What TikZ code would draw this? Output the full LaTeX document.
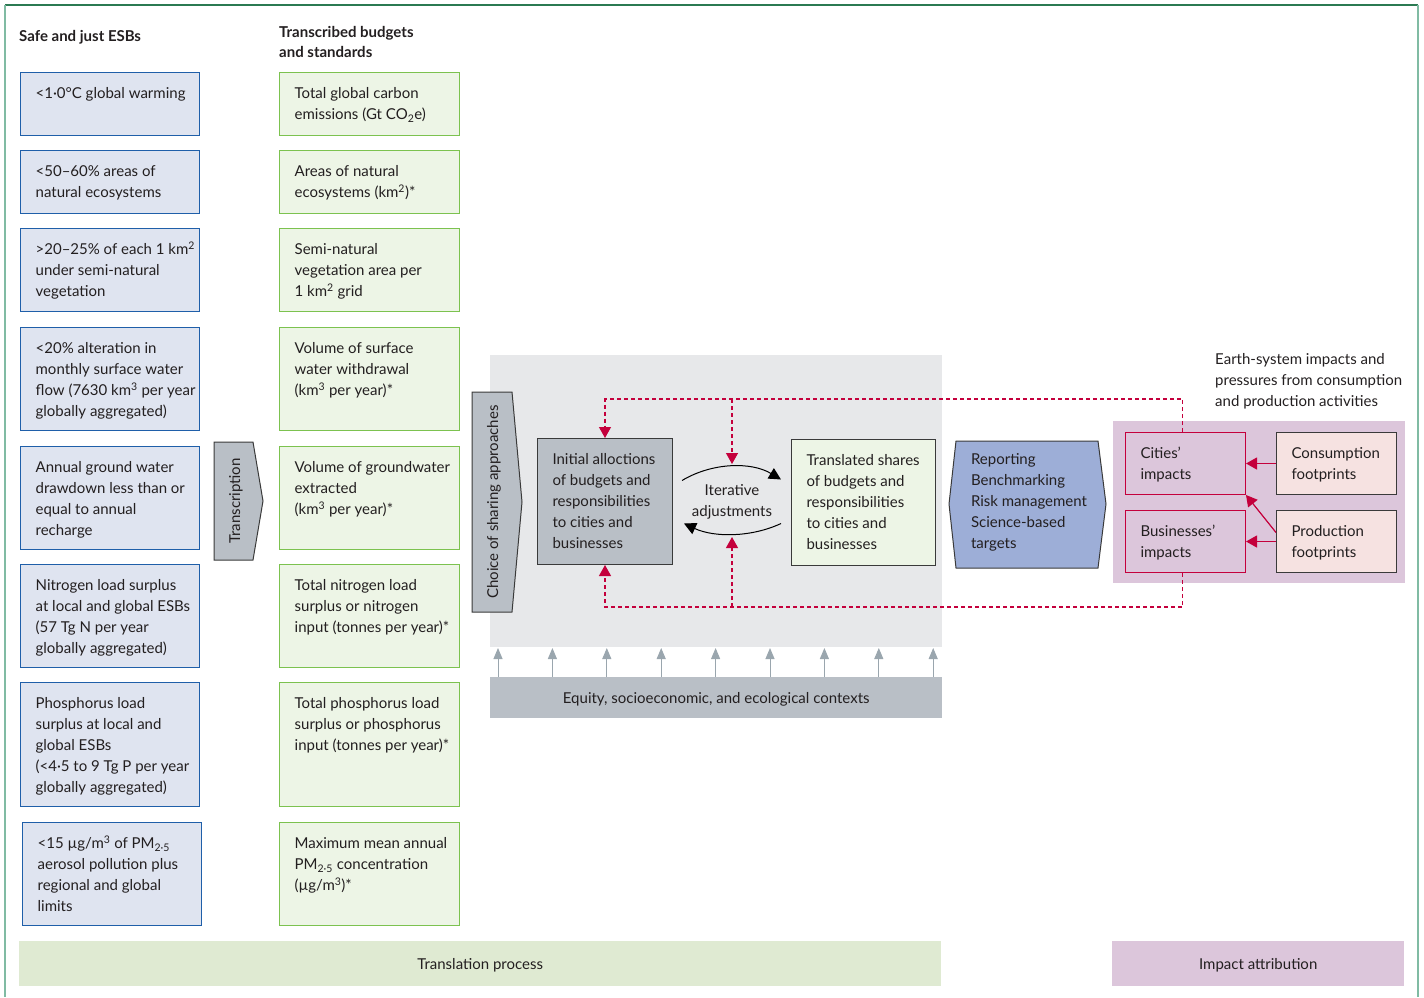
\documentclass[tikz,border=0pt]{standalone}
\usepackage{fontspec}
\setmainfont{Lato}
\usetikzlibrary{arrows.meta,positioning}

\definecolor{esbfill}{HTML}{DFE4F0}
\definecolor{esbline}{HTML}{1F5FA9}
\definecolor{tbsfill}{HTML}{EDF5E6}
\definecolor{tbsline}{HTML}{7CC24F}
\definecolor{stagegray}{HTML}{B9BFC6}
\definecolor{panelgray}{HTML}{E7E8EA}
\definecolor{darkline}{HTML}{3A3A3A}
\definecolor{textgray}{HTML}{231F20}
\definecolor{flowred}{HTML}{C4003C}
\definecolor{reportblue}{HTML}{9DAED7}
\definecolor{impactbg}{HTML}{DCC6DB}
\definecolor{footfill}{HTML}{F6E2E1}
\definecolor{transbar}{HTML}{DFEAD2}
\definecolor{ctxgray}{HTML}{9AA6AE}
\definecolor{framegreen}{HTML}{2B7A52}
\definecolor{frameside}{HTML}{80BBA3}

% top aligned text inside a fixed box
\newcommand{\boxtext}[3]{\hspace*{15pt}\parbox[c][#2][t]{#1}{\raggedright\rule{0pt}{26pt}#3}}

\tikzset{
  esb/.style={draw=esbline, fill=esbfill, line width=1.3pt, anchor=north west, inner sep=0pt},
  tbs/.style={draw=tbsline, fill=tbsfill, line width=1.3pt, anchor=north west, inner sep=0pt},
  stage/.style={draw=darkline, line width=1pt, anchor=north west, inner sep=0pt},
  impact/.style={draw=flowred, line width=1pt, anchor=north west, inner sep=0pt},
  bar/.style={anchor=north west, inner sep=0pt, text depth=0pt},
  redflow/.style={flowred, line width=1.2pt, dash pattern=on 4pt off 3pt, -{Triangle[width=12pt,length=11pt]}},
  redarrow/.style={flowred, line width=1.2pt, -{Triangle[width=12pt,length=11pt]}},
  iterarrow/.style={black, line width=1pt, -{Triangle[width=12pt,length=12pt]}},
  ctxarrow/.style={ctxgray, line width=1pt, -{Triangle[width=9pt,length=11pt]}},
}

\begin{document}
\begin{tikzpicture}[x=1pt, y=-1pt, font=\fontsize{15}{21}\selectfont, text=textgray]
\useasboundingbox (0,0) rectangle (1424,997);

% frame
\draw[framegreen, line width=1.5pt] (5,5) -- (1418,5);
\draw[frameside, line width=2pt] (5,5) -- (5,997);
\draw[frameside, line width=2pt] (1418,5) -- (1418,997);

% headings
\node[anchor=west, inner sep=0pt, font=\fontsize{15}{20}\bfseries] (esbhead) at (19,37) {Safe and just ESBs};
\node[anchor=west, inner sep=0pt, align=left, font=\fontsize{15}{20}\bfseries] (tbshead) at (279,42) {Transcribed budgets\\and standards};

% safe and just ESBs
\node[esb] (esb1) at (20,72) {\boxtext{164pt}{63pt}{<1·0°C global warming}};
\node[esb] (esb2) at (20,150) {\boxtext{164pt}{63pt}{<50–60\% areas of\\natural ecosystems}};
\node[esb] (esb3) at (20,228) {\boxtext{164pt}{83pt}{>20–25\% of each 1 km\textsuperscript{2}\\under semi-natural\\vegetation}};
\node[esb] (esb4) at (20,327) {\boxtext{164pt}{103pt}{<20\% alteration in\\monthly surface water\\flow (7630 km\textsuperscript{3} per year\\globally aggregated)}};
\node[esb] (esb5) at (20,446) {\boxtext{164pt}{103pt}{Annual ground water\\drawdown less than or\\equal to annual\\recharge}};
\node[esb] (esb6) at (20,564) {\boxtext{164pt}{103pt}{Nitrogen load surplus\\at local and global ESBs\\(57 Tg N per year\\globally aggregated)}};
\node[esb] (esb7) at (20,682) {\boxtext{164pt}{124pt}{Phosphorus load\\surplus at local and\\global ESBs\\(<4·5 to 9 Tg P per year\\globally aggregated)}};
\node[esb] (esb8) at (22,822) {\boxtext{164pt}{103pt}{<15 µg/m\textsuperscript{3} of PM\textsubscript{2·5}\\aerosol pollution plus\\regional and global\\limits}};

% transcribed budgets and standards
\node[tbs] (tbs1) at (279,72) {\boxtext{165pt}{63pt}{Total global carbon\\emissions (Gt CO\textsubscript{2}e)}};
\node[tbs] (tbs2) at (279,150) {\boxtext{165pt}{63pt}{Areas of natural\\ecosystems (km\textsuperscript{2})*}};
\node[tbs] (tbs3) at (279,228) {\boxtext{165pt}{83pt}{Semi-natural\\vegetation area per\\1 km\textsuperscript{2} grid}};
\node[tbs] (tbs4) at (279,327) {\boxtext{165pt}{103pt}{Volume of surface\\water withdrawal\\(km\textsuperscript{3} per year)*}};
\node[tbs] (tbs5) at (279,446) {\boxtext{165pt}{103pt}{Volume of groundwater\\extracted\\(km\textsuperscript{3} per year)*}};
\node[tbs] (tbs6) at (279,564) {\boxtext{165pt}{103pt}{Total nitrogen load\\surplus or nitrogen\\input (tonnes per year)*}};
\node[tbs] (tbs7) at (279,682) {\boxtext{165pt}{124pt}{Total phosphorus load\\surplus or phosphorus\\input (tonnes per year)*}};
\node[tbs] (tbs8) at (279,822) {\boxtext{165pt}{103pt}{Maximum mean annual\\PM\textsubscript{2·5} concentration\\(µg/m\textsuperscript{3})*}};

% transcription arrow
\filldraw[fill=stagegray, draw=darkline, line width=1pt] (214,442) -- (253,442) -- (263,501) -- (253,560) -- (214,560) -- cycle;
\node[inner sep=0pt] (transcr) at (236,501) {\rotatebox{90}{Transcription}};

% translation panel
\fill[panelgray] (490,355) rectangle (942,647);
\filldraw[fill=stagegray, draw=darkline, line width=1pt] (472,392) -- (512,392) -- (522,502) -- (512,612) -- (472,612) -- cycle;
\node[inner sep=0pt] (choice) at (494,502) {\rotatebox{90}{Choice of sharing approaches}};

\node[stage, fill=stagegray] (init) at (537,438) {\boxtext{120pt}{126pt}{Initial alloctions\\of budgets and\\responsibilities\\to cities and\\businesses}};
\node[stage, fill=tbsfill] (trans) at (791,439) {\boxtext{129pt}{126pt}{Translated shares\\of budgets and\\responsibilities\\to cities and\\businesses}};
\node[align=center, inner sep=0pt] (iter) at (732,502) {Iterative\\adjustments};
\draw[iterarrow] ([xshift=9pt,yshift=21pt]init.east) .. controls +(30,-18) and +(-30,-18) .. ([xshift=-10pt,yshift=23pt]trans.west);
\draw[iterarrow] ([xshift=-10pt,yshift=-21pt]trans.west) .. controls +(-30,14) and +(30,14) .. ([xshift=11pt,yshift=-22pt]init.east);

% contexts
\node[bar, fill=stagegray, minimum width=452pt, minimum height=41pt] (equity) at (490,677) {Equity, socioeconomic, and ecological contexts};
\foreach \i in {0,...,8}
  \draw[ctxarrow] ([xshift=8pt+\i*54.4pt]equity.north west) -- ++(0,-29);

% reporting
\filldraw[fill=reportblue, draw=darkline, line width=1pt] (949,504) -- (956,441) -- (1098,441) -- (1106,504) -- (1098,568) -- (956,568) -- cycle;
\node[align=left, inner sep=0pt] (report) at (1029,502) {Reporting\\Benchmarking\\Risk management\\Science-based\\targets};

% impact attribution
\node[anchor=north west, align=left, inner sep=0pt] (earth) at (1215,353) {Earth-system impacts and\\pressures from consumption\\and production activities};
\fill[impactbg] (1113,421) rectangle (1405,583);
\node[impact] (cities) at (1125,432) {\boxtext{105pt}{62pt}{Cities’\\impacts}};
\node[impact] (bus) at (1125,510) {\boxtext{105pt}{62pt}{Businesses’\\impacts}};
\node[stage, fill=footfill] (cons) at (1276,432) {\boxtext{105pt}{62pt}{Consumption\\footprints}};
\node[stage, fill=footfill] (prod) at (1276,510) {\boxtext{105pt}{62pt}{Production\\footprints}};
\draw[redarrow] (cons.west) -- (cities.east);
\draw[redarrow] (prod.west) -- (bus.east);
\draw[redarrow] ([yshift=9pt]prod.west) -- (cities.south east);

% feedback loops
\coordinate (dtop) at (732,399);
\coordinate (dbot) at (732,607);
\coordinate (arctop) at (732,464);
\coordinate (arcbot) at (732,537);
\draw[redflow] ([xshift=-3pt]cities.north) |- (dtop) -| (init.north);
\draw[redflow] (dtop) -- (arctop);
\draw[redflow] ([xshift=-3pt]bus.south) |- (dbot) -| (init.south);
\draw[redflow] (dbot) -- (arcbot);

% bottom bars
\node[bar, fill=transbar, minimum width=922pt, minimum height=45pt] (translbar) at (19,941) {Translation process};
\node[bar, fill=impactbg, minimum width=292pt, minimum height=45pt] (impactbar) at (1112,941) {Impact attribution};
\end{tikzpicture}
\end{document}
